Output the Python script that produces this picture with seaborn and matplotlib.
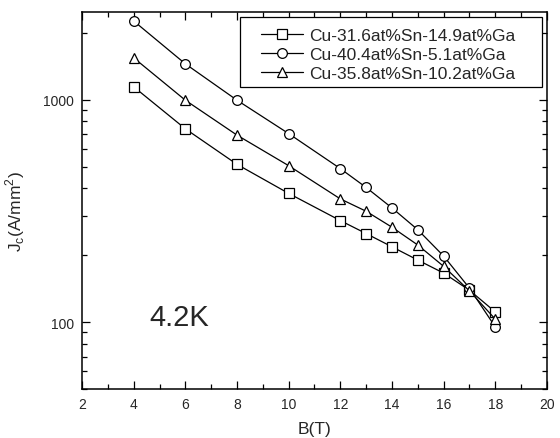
import matplotlib
matplotlib.use("Agg")
import matplotlib.pyplot as plt
import seaborn as sns
import pandas as pd
from matplotlib.patches import Rectangle
from matplotlib.ticker import LogLocator, FixedLocator, MultipleLocator, NullFormatter

B = [4, 6, 8, 10, 12, 13, 14, 15, 16, 17, 18]
jc_a = [1143, 740, 512, 379, 286, 250, 218, 190, 166, 139, 111]
jc_b = [2260, 1450, 995, 704, 490, 403, 326, 260, 198, 142, 95]
jc_c = [1543, 995, 693, 505, 358, 315, 267, 222, 178, 138, 103]
labels = ["Cu-31.6at%Sn-14.9at%Ga", "Cu-40.4at%Sn-5.1at%Ga", "Cu-35.8at%Sn-10.2at%Ga"]
markers = ["s", "o", "^"]
xticks = [2, 4, 6, 8, 10, 12, 14, 16, 18, 20]
yticks = [100, 1000]

sns.set_style("ticks")
plt.rcParams["font.family"] = ["Liberation Sans", "DejaVu Sans"]
plt.rcParams["xtick.direction"] = "in"
plt.rcParams["ytick.direction"] = "in"

W, H = 560, 439
fig = plt.figure(figsize=(W/100, H/100), dpi=100)
ax = fig.add_axes([82/W, 1-390/H, (547-82)/W, (390-13)/H])

for vals, lab, mk in zip([jc_a, jc_b, jc_c], labels, markers):
    df = pd.DataFrame({"B": B, "Jc": vals})
    sns.lineplot(data=df, x="B", y="Jc", ax=ax, color="black", linewidth=0.9,
                 marker=mk, markersize=7 if mk != "s" else 6.5, markerfacecolor="white",
                 markeredgecolor="black", markeredgewidth=0.9, label=lab)

ax.set_yscale("log")
ax.set_xlim(2, 20)
ax.set_ylim(50, 2480)
ax.xaxis.set_major_locator(FixedLocator(xticks))
ax.xaxis.set_minor_locator(MultipleLocator(1))
ax.yaxis.set_major_locator(FixedLocator(yticks))
ax.yaxis.set_major_formatter(matplotlib.ticker.FixedFormatter([str(v) for v in yticks]))
ax.yaxis.set_minor_locator(LogLocator(base=10, subs=range(2, 10)))
ax.yaxis.set_minor_formatter(NullFormatter())
ax.tick_params(which="both", top=True, right=True, direction="in", labelsize=10, color="black", width=0.9)
ax.tick_params(which="major", length=6, pad=6)
ax.tick_params(which="minor", length=3.5)
for s in ax.spines.values():
    s.set_linewidth(1.1)
    s.set_color("black")

ax.set_xlabel("B(T)", fontsize=12.5, labelpad=7)
ax.set_ylabel(r"J$_\mathregular{c}$(A/mm$^\mathregular{2}$)", fontsize=12.5)
ax.yaxis.set_label_coords(-0.118, 0.472)
ax.text(5.76, 105, "4.2K", fontsize=21, ha="center", va="center")

# legend box drawn separately to match wide padding
box = Rectangle((240/W, 1-88/H), (542-240)/W, (88-18)/H, transform=fig.transFigure,
                facecolor="white", edgecolor="black", linewidth=0.9, zorder=4, clip_on=False)
ax.add_patch(box)
leg = ax.legend(loc="upper left", fontsize=12.5, frameon=False,
                handlelength=2.4, borderpad=0.0, labelspacing=0.22,
                handletextpad=0.4, borderaxespad=0.0,
                bbox_to_anchor=(261/W, 1-29/H), bbox_transform=fig.transFigure)
leg.set_zorder(5)

fig.savefig("out.png", dpi=100)
